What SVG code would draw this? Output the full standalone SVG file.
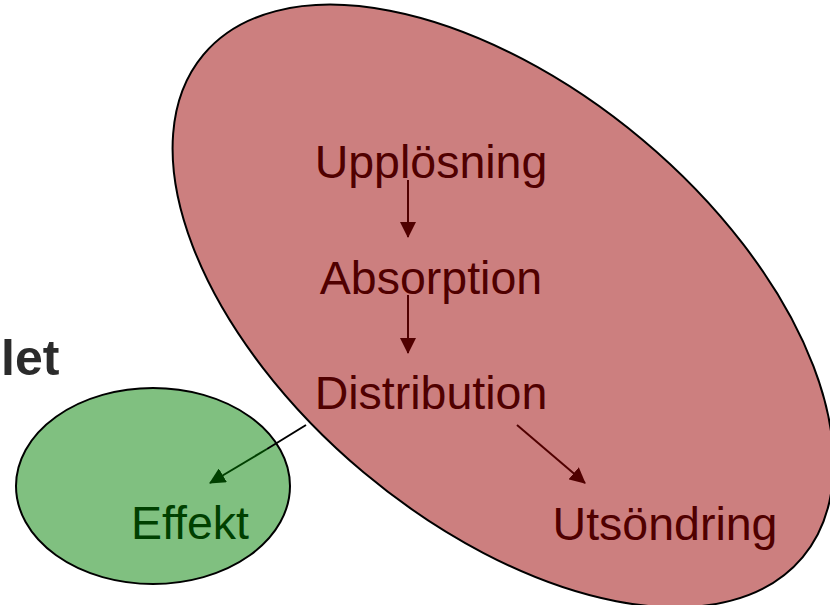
<svg xmlns="http://www.w3.org/2000/svg" width="830" height="605" viewBox="0 0 830 605">
<style>
.lbl{font-family:"Liberation Sans",Arial,sans-serif;font-size:46.5px}
.red{fill:#500000}
.grn{fill:#004000}
</style>
<defs>
<marker id="ahR" markerUnits="userSpaceOnUse" markerWidth="16" markerHeight="16" viewBox="0 0 16 16" refX="15" refY="8" orient="auto"><path d="M0,0 L16,8 L0,16 Z" fill="#500000"/></marker>
<marker id="ahG" markerUnits="userSpaceOnUse" markerWidth="16" markerHeight="16" viewBox="0 0 16 16" refX="15" refY="8" orient="auto"><path d="M0,0 L16,8 L0,16 Z" fill="#004000"/></marker>
</defs>
<rect width="830" height="605" fill="#ffffff"/>
<text x="1" y="375" font-family="Liberation Sans,Arial,sans-serif" font-weight="bold" font-size="50" fill="#2b2b2b">let</text>
<g id="kropp">
<ellipse cx="503" cy="306" rx="391" ry="217" transform="rotate(40 503 306)" fill="#cc7f7f" stroke="#000" stroke-width="2"/>
</g>
<g id="effektnod">
<ellipse cx="153" cy="486" rx="137" ry="98" fill="#80c080" stroke="#000" stroke-width="2"/>
<text class="lbl grn" x="190" y="539" text-anchor="middle">Effekt</text>
</g>
<g id="upplosning"><text class="lbl red" x="431" y="178" text-anchor="middle">Upplösning</text></g>
<g id="absorption"><text class="lbl red" x="431" y="294" text-anchor="middle">Absorption</text></g>
<g id="distribution"><text class="lbl red" x="431" y="409" text-anchor="middle">Distribution</text></g>
<g id="utsondring"><text class="lbl red" x="665" y="540" text-anchor="middle">Utsöndring</text></g>
<g id="connectors" fill="none" stroke-width="2">
<line x1="408" y1="180" x2="408" y2="237" stroke="#500000" marker-end="url(#ahR)"/>
<line x1="408" y1="295" x2="408" y2="353" stroke="#500000" marker-end="url(#ahR)"/>
<line x1="517" y1="425" x2="585" y2="483" stroke="#500000" marker-end="url(#ahR)"/>
<line x1="267" y1="449" x2="210" y2="483" stroke="#004000" marker-end="url(#ahG)"/>
<line x1="306" y1="425" x2="267" y2="449" stroke="#000"/>
</g>
</svg>
